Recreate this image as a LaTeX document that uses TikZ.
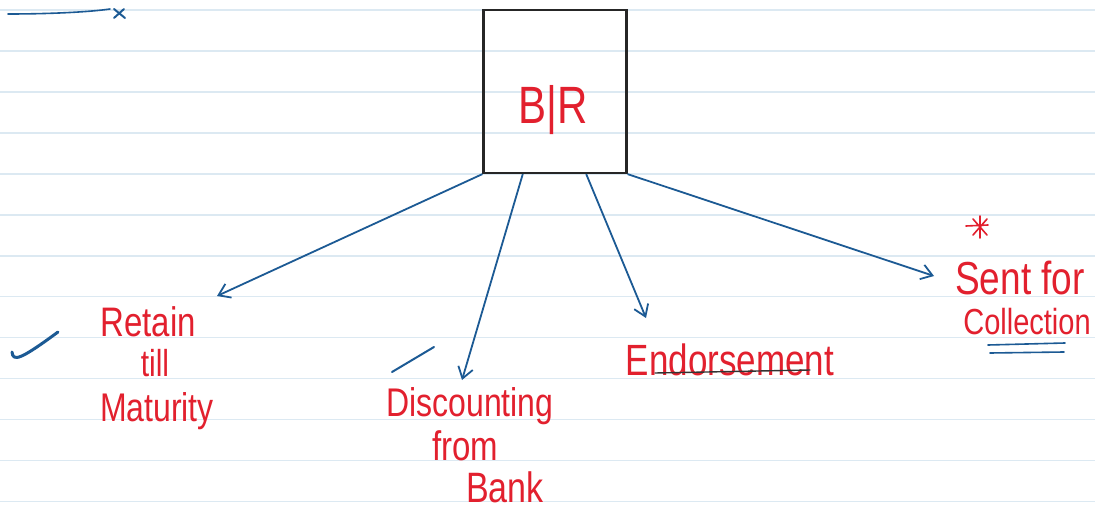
\documentclass[tikz,border=0pt]{standalone}
\usepackage{fontspec}
\setmainfont{Liberation Sans}
\usetikzlibrary{arrows.meta,calc}
\definecolor{ink}{HTML}{E2202E}
\definecolor{pen}{HTML}{1C5A94}
\definecolor{rule}{HTML}{DCE9F2}
\newcommand{\stretched}[1]{\scalebox{1}[1.25]{#1}}
\tikzset{
  word/.style={text=ink, inner sep=0pt, anchor=base},
  fs/.style={font=\fontsize{#1}{#1}\selectfont},
  branch/.style={draw=pen, line width=1.8pt, -{Straight Barb[length=11pt,width=15pt,line width=1.8pt]}},
  penmark/.style={draw=pen, line width=2pt, line cap=round, line join=round},
}
\begin{document}
\begin{tikzpicture}[x=1pt,y=-1pt]
  \useasboundingbox[fill=white] (0,0) rectangle (1095,516);
  % ruled paper
  \foreach \k in {0,...,12}
    \draw[rule, line width=1.6pt] (0,{10+40.95*\k}) -- (1095,{10+40.95*\k});

  % central box
  \node[draw=black!85, line width=2.2pt, minimum width=143pt, minimum height=163pt, inner sep=0pt] (br) at (555,91.5) {};
  \node[word, fs=42] (brtext) at (553,124) {\stretched{B|R}};

  % branch ends
  \coordinate (e1) at (217,296);
  \coordinate (e2) at (462,380);
  \coordinate (e3) at (646,318);
  \coordinate (e4) at (934,276);
  \coordinate (s2) at ($(br.south west)!0.278!(br.south east)$);
  \coordinate (s3) at ($(br.south west)!0.715!(br.south east)$);

  \draw[branch] (br.south west) -- (e1);
  \draw[branch] (s2) -- (e2);
  \draw[branch] (s3) -- (e3);
  \draw[branch] (br.south east) -- (e4);

  % labels
  \node[word, fs=33] (retain) at (148,336) {\stretched{Retain}};
  \node[word, fs=30] (till) at (155,376) {\stretched{till}};
  \node[word, fs=32] (maturity) at (157,421) {\stretched{Maturity}};
  \node[word, fs=32] (disc) at (470,416) {\stretched{Discounting}};
  \node[word, fs=33] (from) at (465,460) {\stretched{from}};
  \node[word, fs=34] (bank) at (505,502) {\stretched{Bank}};
  \node[word, fs=35] (endo) at (730,375) {\stretched{Endorsement}};
  \node[word, fs=37] (sent) at (1020,294) {\stretched{Sent for}};
  \node[word, fs=29] (coll) at (1027,334) {\stretched{Collection}};

  % underlines
  \draw[black!80, line width=1.4pt, line cap=round] (655,373) -- (810,370);
  \draw[pen, line width=1.6pt, line cap=round] (988,345) -- (1065,343);
  \draw[pen, line width=1.6pt, line cap=round] (990,353) -- (1064,352);

  % star
  \draw[ink, line width=1.6pt, line cap=round] (966,226) -- (988,225)
    (980,216) -- (980,238) (973,219) -- (987,235) (987,219) -- (973,235);

  % pen marks
  \draw[penmark, line width=3pt] (12,352) .. controls (13,362) and (20,360) .. (58,332);
  \draw[penmark] (392,372) -- (434,347);
  \draw[penmark, line width=1.6pt] (8,14) .. controls (50,14) and (90,12) .. (110,9);
  \draw[penmark] (114,9) -- (125,18);
  \draw[penmark] (124,9) -- (114,18);
\end{tikzpicture}
\end{document}
